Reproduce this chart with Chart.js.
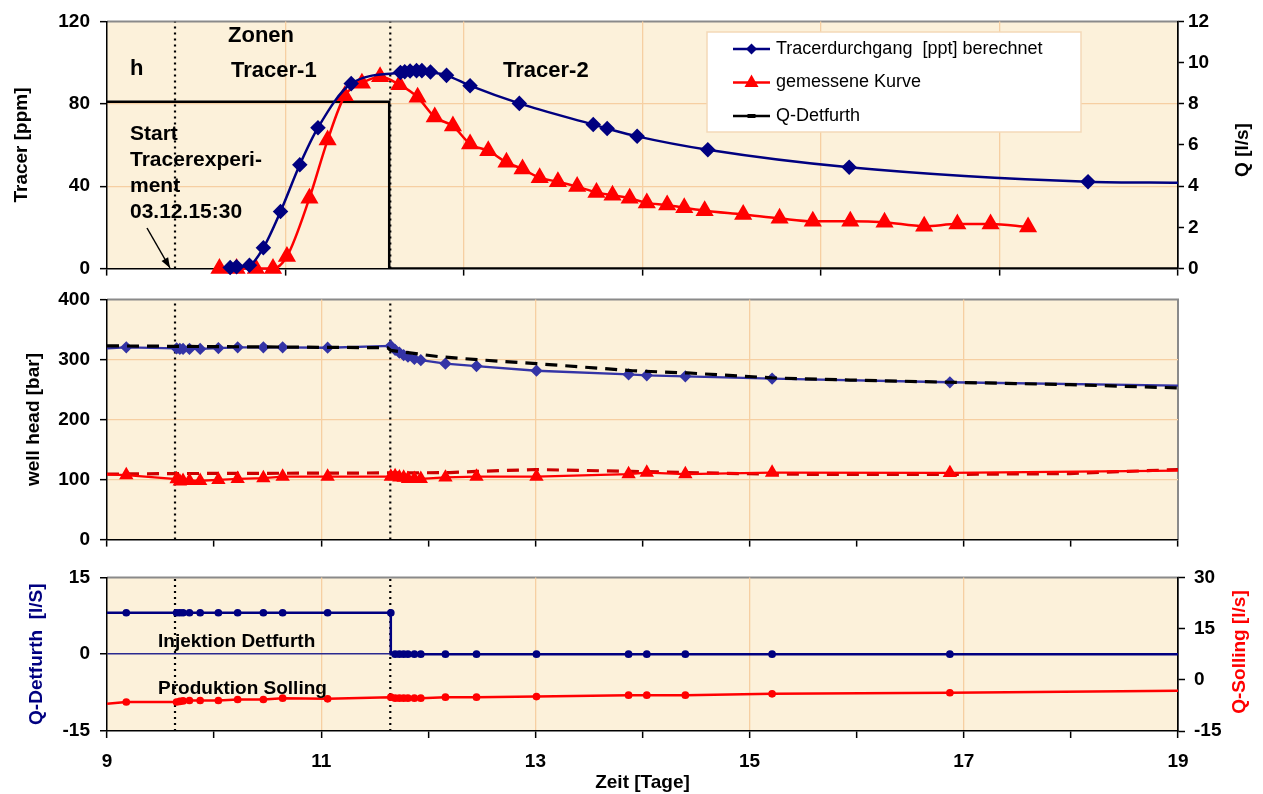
<!DOCTYPE html>
<html>
<head>
<meta charset="utf-8">
<script src="https://cdn.jsdelivr.net/npm/chart.js@4.4.1/dist/chart.umd.min.js"></script>
<style>
  body { margin: 0; background: #fff; }
  #wrap { position: relative; width: 1263px; height: 794px; overflow: hidden; }
  canvas { position: absolute; left: 0; }
</style>
</head>
<body>
<div id="wrap">
  <canvas id="c1" width="1263" height="290" style="top:0px"></canvas>
  <canvas id="c2" width="1263" height="283" style="top:278px"></canvas>
  <canvas id="c3" width="1263" height="238" style="top:556px"></canvas>
</div>
<script>
// ---- Daten ----------------------------------------------------------
const xMin = 9, xMax = 19;
const zonenGrenzen = [9.635, 11.645];   // gepunktete Linien

// obere Grafik: Tracer
const tracerBerX = [10.15, 10.21, 10.33, 10.46, 10.62, 10.80, 10.97, 11.28, 11.74, 11.78, 11.83, 11.89, 11.94, 12.02, 12.17, 12.39, 12.85, 13.54, 13.67, 13.95, 14.61, 15.93, 18.16, 19.0];
const tracerBerY = [0.5, 0.9, 1.6, 10.1, 27.7, 50.4, 68.4, 89.8, 95.2, 95.6, 95.9, 96.1, 96.1, 95.4, 93.8, 88.8, 80.2, 69.9, 68.0, 64.2, 57.7, 49.2, 42.2, 41.7];
const tracerMessX = [10.05, 10.21, 10.39, 10.55, 10.68, 10.89, 11.06, 11.22, 11.38, 11.55, 11.73, 11.90, 12.06, 12.23, 12.39, 12.56, 12.73, 12.88, 13.04, 13.21, 13.39, 13.57, 13.72, 13.88, 14.04, 14.23, 14.39, 14.58, 14.94, 15.28, 15.59, 15.94, 16.26, 16.63, 16.94, 17.25, 17.60];
const tracerMessY = [0, 0, 0, 0, 5.9, 34.2, 62.4, 83.9, 90.0, 93.1, 89.3, 83.2, 73.6, 69.2, 60.5, 57.2, 51.6, 48.3, 44.1, 42.2, 39.8, 37.0, 35.6, 34.2, 31.9, 30.9, 29.5, 28.1, 26.3, 24.4, 23.0, 23.0, 22.5, 20.6, 21.6, 21.6, 20.2];
const qDetTopX = [9, 11.635, 11.635, 19];
const qDetTopY = [8.1, 8.1, 0, 0];

// Messzeitpunkte fuer Druck und Raten (erste/letzte = Linienende ohne Marker)
const messZeit = [9.0, 9.18, 9.65, 9.68, 9.71, 9.77, 9.87, 10.04, 10.22, 10.46, 10.64, 11.06, 11.65, 11.69, 11.73, 11.77, 11.81, 11.87, 11.93, 12.16, 12.45, 13.01, 13.87, 14.04, 14.40, 15.21, 16.87, 19.0];
const druckDetfurth = [318.6, 320.2, 318.6, 317.5, 317.5, 317.5, 317.5, 319, 320.2, 320.2, 320.2, 319.5, 322.6, 316, 311.3, 307, 304.6, 300.9, 298.8, 293, 289, 281.2, 275, 273.5, 271.9, 268.2, 262, 256.3];
const druckSolling = [108.5, 107.4, 100.7, 97, 98, 98, 98, 99.6, 101.2, 102.3, 104.8, 104.8, 104.8, 105.8, 103.8, 103.2, 101.2, 101.2, 101.2, 103.5, 104.8, 104.8, 109, 111.6, 109, 111.6, 111, 114.7];
const druckDetSimX = [9, 11.62, 11.65, 12.1, 12.48, 13.01, 13.91, 14.42, 15.21, 15.94, 16.87, 17.99, 19];
const druckDetSimY = [322.6, 319.5, 315, 304.6, 299.3, 293, 281.2, 277.5, 269.3, 265.7, 262, 258, 252.6];
const druckSolSimX = [9, 9.65, 11.64, 12.2, 12.45, 13.0, 13.9, 14.42, 15.2, 15.94, 16.87, 17.99, 19];
const druckSolSimY = [109, 110, 111, 111.5, 113.6, 116.7, 113.6, 111.6, 109, 108.5, 108.5, 110, 116.7];
const qDetfurth = [8.1, 8.1, 8.1, 8.1, 8.1, 8.1, 8.1, 8.1, 8.1, 8.1, 8.1, 8.1, 8.1, 0, 0, 0, 0, 0, 0, 0, 0, 0, 0, 0, 0, 0, 0, 0];
const qSolling = [-7.0, -6.5, -6.5, -6.35, -6.2, -6.06, -6.06, -6.06, -5.77, -5.77, -5.38, -5.58, -5.1, -5.38, -5.38, -5.38, -5.38, -5.38, -5.38, -5.1, -5.1, -4.9, -4.5, -4.5, -4.5, -4.1, -3.8, -3.2];

// Achsen
const tracerTicks = [0, 40, 80, 120];
const qTopTicks = [0, 2, 4, 6, 8, 10, 12];
const druckTicks = [0, 100, 200, 300, 400];
const qDetTicks = [-15, 0, 15];
const qSolTicks = [-15, 0, 15, 30];
const zeitTicks = [9, 10, 11, 12, 13, 14, 15, 16, 17, 18, 19];
const zeitLabels = [9, 11, 13, 15, 17, 19];
const zeitTicksTop = [9, 9 + 10 / 6, 9 + 20 / 6, 14, 9 + 40 / 6, 9 + 50 / 6, 19];

// ---- Darstellung ----------------------------------------------------
const FONT = '"Liberation Sans", Arial, Helvetica, sans-serif';
Chart.defaults.font.family = FONT;
Chart.defaults.color = '#000';
const plotBg = '#FCF1DA';
const gridCol = '#F6CFA2';
const tickFont = { size: 19, weight: 'bold' };
const titleFont = { size: 19, weight: 'bold' };
const NAVY = '#000080';
const RED = '#FF0000';

const pts = (xs, ys) => xs.map((x, i) => ({ x: x, y: ys[i] }));
const fixTicks = vals => s => { s.ticks = vals.map(v => ({ value: v })); };
const endsNoMarker = (n, r) => Array.from({ length: n }, (_, i) => (i === 0 || i === n - 1) ? 0 : r);
const inner = (v, lo, hi) => v > lo + 1e-6 && v < hi - 1e-6;

function vLines(lo, hi, axis) {
  return zonenGrenzen.map(t => ({
    data: [{ x: t, y: lo }, { x: t, y: hi }], yAxisID: axis,
    borderColor: '#000', borderWidth: 2.2, borderDash: [2, 4], pointRadius: 0, order: 9
  }));
}

function xScale(tickVals, gridAt, labelVals, h) {
  return {
    type: 'linear', min: xMin, max: xMax,
    afterBuildTicks: fixTicks(tickVals),
    afterFit: s => { s.height = h; },
    grid: {
      color: c => (c.tick && gridAt.some(g => Math.abs(g - c.tick.value) < 1e-6)) ? gridCol : 'rgba(0,0,0,0)',
      lineWidth: 1.3, tickColor: '#000', tickLength: 7, tickWidth: 1.5
    },
    border: { color: '#000', width: 1.5 },
    ticks: {
      display: labelVals.length > 0, autoSkip: false, maxRotation: 0, font: tickFont, padding: 12,
      callback: v => labelVals.includes(v) ? String(v) : ''
    },
    title: labelVals.length > 0
      ? { display: true, text: 'Zeit [Tage]', font: titleFont, padding: { top: 0, bottom: 0 } }
      : { display: false }
  };
}

function yScale(pos, tickVals, w, opts) {
  const lo = tickVals[0], hi = tickVals[tickVals.length - 1];
  return Object.assign({
    position: pos, min: lo, max: hi,
    afterBuildTicks: fixTicks(tickVals),
    afterFit: s => { s.width = w; },
    grid: {
      color: c => (c.tick && inner(c.tick.value, lo, hi)) ? gridCol : 'rgba(0,0,0,0)',
      lineWidth: 1.3, tickColor: '#000', tickLength: 7, tickWidth: 1.5
    },
    border: { color: '#000', width: 1.5 },
    ticks: { font: tickFont, padding: 10 }
  }, opts);
}

function drawText(ctx, t) {
  ctx.save();
  ctx.font = (t.bold === false ? '' : 'bold ') + (t.size || 19) + 'px ' + FONT;
  ctx.fillStyle = t.color || '#000';
  ctx.textAlign = t.align || 'left';
  ctx.textBaseline = t.base || 'alphabetic';
  ctx.translate(t.x, t.y);
  if (t.rot) ctx.rotate(t.rot * Math.PI / 180);
  ctx.fillText(t.s, 0, 0);
  ctx.restore();
}

function drawMarker(ctx, kind, x, y, col) {
  ctx.save();
  ctx.fillStyle = col;
  ctx.beginPath();
  if (kind === 'diamond') {
    ctx.moveTo(x, y - 5.5); ctx.lineTo(x + 5.5, y); ctx.lineTo(x, y + 5.5); ctx.lineTo(x - 5.5, y);
  } else if (kind === 'triangle') {
    ctx.moveTo(x, y - 8); ctx.lineTo(x + 7, y + 4.5); ctx.lineTo(x - 7, y + 4.5);
  } else {
    ctx.rect(x - 4, y - 2, 8, 4);
  }
  ctx.closePath();
  ctx.fill();
  ctx.restore();
}

function drawLegend(chart, L) {
  const ctx = chart.ctx;
  ctx.save();
  ctx.fillStyle = '#fff';
  ctx.strokeStyle = '#F3D9B8';
  ctx.lineWidth = 1.5;
  ctx.fillRect(L.x, L.y, L.w, L.h);
  ctx.strokeRect(L.x, L.y, L.w, L.h);
  chart.data.datasets.filter(d => d.label).forEach((d, i) => {
    const y = L.y + 17 + i * 33.5;
    ctx.strokeStyle = d.borderColor;
    ctx.lineWidth = 2.5;
    ctx.setLineDash([]);
    ctx.beginPath(); ctx.moveTo(L.x + 26, y); ctx.lineTo(L.x + 63, y); ctx.stroke();
    drawMarker(ctx, d.legendMarker, L.x + 44.5, y, d.borderColor);
    ctx.fillStyle = '#000';
    ctx.font = '18px ' + FONT;
    ctx.textBaseline = 'middle';
    ctx.textAlign = 'left';
    ctx.fillText(d.label, L.x + 69, y);
  });
  ctx.restore();
}

const notes = {
  id: 'notes',
  beforeDraw(chart) {
    const { ctx, chartArea: a } = chart;
    ctx.save();
    ctx.fillStyle = plotBg;
    ctx.fillRect(a.left, a.top, a.right - a.left, a.bottom - a.top);
    ctx.strokeStyle = '#8a8a8a';
    ctx.lineWidth = 2;
    ctx.beginPath();
    ctx.moveTo(a.left, a.top); ctx.lineTo(a.right, a.top); ctx.lineTo(a.right, a.bottom);
    ctx.stroke();
    ctx.restore();
  },
  afterDatasetsDraw(chart, args, o) {
    const ctx = chart.ctx;
    (o.texts || []).forEach(t => drawText(ctx, t));
    (o.arrows || []).forEach(a => {
      ctx.save();
      ctx.strokeStyle = '#000'; ctx.fillStyle = '#000'; ctx.lineWidth = 1.5;
      ctx.beginPath(); ctx.moveTo(a[0], a[1]); ctx.lineTo(a[2], a[3]); ctx.stroke();
      const ang = Math.atan2(a[3] - a[1], a[2] - a[0]);
      ctx.beginPath();
      ctx.moveTo(a[2], a[3]);
      ctx.lineTo(a[2] - 11 * Math.cos(ang - 0.35), a[3] - 11 * Math.sin(ang - 0.35));
      ctx.lineTo(a[2] - 11 * Math.cos(ang + 0.35), a[3] - 11 * Math.sin(ang + 0.35));
      ctx.closePath(); ctx.fill();
      ctx.restore();
    });
    if (o.legend) drawLegend(chart, o.legend);
  }
};

const baseOpts = {
  responsive: false, animation: false,
  plugins: { legend: { display: false }, tooltip: { enabled: false } }
};

// ---- obere Grafik ---------------------------------------------------
new Chart(document.getElementById('c1'), {
  type: 'line',
  data: {
    datasets: [
      {
        label: 'Tracerdurchgang  [ppt] berechnet', legendMarker: 'diamond',
        data: pts(tracerBerX, tracerBerY), yAxisID: 'y',
        borderColor: NAVY, backgroundColor: NAVY, borderWidth: 2.5,
        pointStyle: 'rectRot', pointRadius: tracerBerX.map((x, i) => i === tracerBerX.length - 1 ? 0 : 6),
        cubicInterpolationMode: 'monotone', clip: false, order: 1
      },
      {
        label: 'gemessene Kurve', legendMarker: 'triangle',
        data: pts(tracerMessX, tracerMessY), yAxisID: 'y',
        borderColor: RED, backgroundColor: RED, borderWidth: 2.5,
        pointStyle: 'triangle', pointRadius: 8,
        cubicInterpolationMode: 'monotone', clip: false, order: 2
      },
      {
        label: 'Q-Detfurth', legendMarker: 'dash',
        data: pts(qDetTopX, qDetTopY), yAxisID: 'yq',
        borderColor: '#000', borderWidth: 2.5, pointRadius: 0, order: 6
      },
      ...vLines(0, 120, 'y')
    ]
  },
  options: Object.assign({}, baseOpts, {
    layout: { padding: { top: 20, left: 0, right: 0, bottom: 0 } },
    scales: {
      x: xScale(zeitTicksTop, zeitTicksTop.slice(1, -1), [], 14),
      y: yScale('left', tracerTicks, 107, {
        title: { display: true, text: 'Tracer [ppm]', font: titleFont, padding: { top: 10.6, bottom: 0 } }
      }),
      yq: yScale('right', qTopTicks, 85, {
        grid: { drawOnChartArea: false, tickColor: '#000', tickLength: 6, tickWidth: 1.5 },
        ticks: { font: tickFont, padding: 4 }
      })
    },
    plugins: Object.assign({}, baseOpts.plugins, {
      notes: {
        texts: [
          { s: 'Zonen', x: 228, y: 42, size: 22 },
          { s: 'h', x: 130, y: 75, size: 22 },
          { s: 'Tracer-1', x: 231, y: 77, size: 22 },
          { s: 'Tracer-2', x: 503, y: 77, size: 22 },
          { s: 'Start', x: 130, y: 140, size: 21 },
          { s: 'Tracerexperi-', x: 130, y: 166, size: 21 },
          { s: 'ment', x: 130, y: 192, size: 21 },
          { s: '03.12.15:30', x: 130, y: 218, size: 21 },
          { s: 'Q [l/s]', x: 1243, y: 150, rot: -90, align: 'center', base: 'middle' }
        ],
        arrows: [[147, 228, 170, 268]],
        legend: { x: 707, y: 32, w: 374, h: 100 }
      }
    })
  }),
  plugins: [notes]
});

// ---- mittlere Grafik: Bohrlochkopfdruck -----------------------------
new Chart(document.getElementById('c2'), {
  type: 'line',
  data: {
    datasets: [
      {
        data: pts(messZeit, druckDetfurth), borderColor: '#3434A6', backgroundColor: '#3434A6',
        borderWidth: 2.3, pointStyle: 'rectRot', pointRadius: endsNoMarker(messZeit.length, 4.5), order: 3
      },
      {
        data: pts(druckDetSimX, druckDetSimY), borderColor: '#000', borderWidth: 3.2,
        borderDash: [12, 8], pointRadius: 0, order: 2
      },
      {
        data: pts(messZeit, druckSolling), borderColor: RED, backgroundColor: RED,
        borderWidth: 2.3, pointStyle: 'triangle', pointRadius: endsNoMarker(messZeit.length, 6), order: 4
      },
      {
        data: pts(druckSolSimX, druckSolSimY), borderColor: '#CC0000', borderWidth: 3.2,
        borderDash: [12, 8], pointRadius: 0, order: 5
      },
      ...vLines(0, 400, 'y')
    ]
  },
  options: Object.assign({}, baseOpts, {
    layout: { padding: { top: 14, left: 0, right: 85, bottom: 0 } },
    scales: {
      x: xScale(zeitTicks, [11, 13, 15, 17], [], 12),
      y: yScale('left', druckTicks, 107, {
        title: { display: true, text: 'well head [bar]', font: titleFont, padding: { top: 22.6, bottom: 0 } }
      })
    },
    plugins: Object.assign({}, baseOpts.plugins, { notes: {} })
  }),
  plugins: [notes]
});

// ---- untere Grafik: Raten -------------------------------------------
new Chart(document.getElementById('c3'), {
  type: 'line',
  data: {
    datasets: [
      {
        data: pts(messZeit, qDetfurth), yAxisID: 'y', stepped: 'after',
        borderColor: NAVY, backgroundColor: NAVY, borderWidth: 2.5,
        pointRadius: endsNoMarker(messZeit.length, 2.6), order: 2
      },
      {
        data: pts(messZeit, qSolling), yAxisID: 'y2',
        borderColor: RED, backgroundColor: RED, borderWidth: 2.5,
        pointRadius: endsNoMarker(messZeit.length, 2.6), order: 3
      },
      ...vLines(-15, 15, 'y')
    ]
  },
  options: Object.assign({}, baseOpts, {
    layout: { padding: { top: 19, left: 0, right: 0, bottom: 0 } },
    scales: {
      x: xScale(zeitTicks, [11, 13, 15, 17], zeitLabels, 63),
      y: yScale('left', qDetTicks, 107, {
        grid: {
          color: c => (c.tick && c.tick.value === 0) ? '#2A2A90' : 'rgba(0,0,0,0)',
          lineWidth: 1.5, tickColor: '#000', tickLength: 7, tickWidth: 1.5
        },
        title: { display: true, text: 'Q-Detfurth  [l/S]', color: NAVY, font: titleFont, padding: { top: 25.6, bottom: 0 } }
      }),
      y2: yScale('right', qSolTicks, 85, {
        grid: { drawOnChartArea: false, tickColor: '#000', tickLength: 7, tickWidth: 1.5 },
        ticks: { font: tickFont, padding: 9 }
      })
    },
    plugins: Object.assign({}, baseOpts.plugins, {
      notes: {
        texts: [
          { s: 'Injektion Detfurth', x: 158, y: 91 },
          { s: 'Produktion Solling', x: 158, y: 138 },
          { s: 'Q-Solling [l/s]', x: 1240, y: 96, rot: -90, align: 'center', base: 'middle', color: RED }
        ]
      }
    })
  }),
  plugins: [notes]
});
</script>
</body>
</html>
